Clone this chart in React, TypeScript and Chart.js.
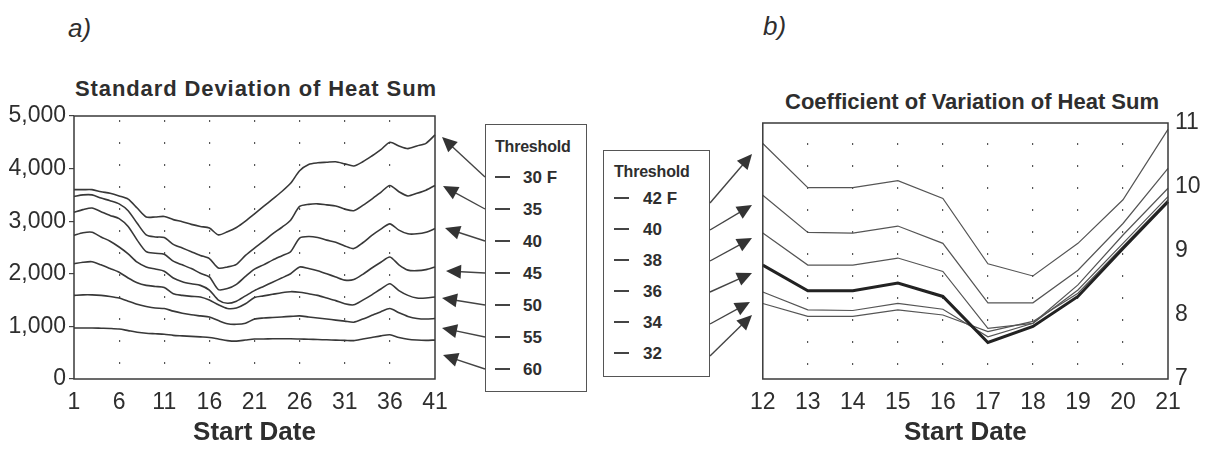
import React, { useEffect, useRef } from "react";
import { Chart, registerables } from "chart.js";

Chart.register(...registerables);

// ---------------- data ----------------
const START_A = ["1","2","3","4","5","6","7","8","9","10","11","12","13","14","15","16","17","18","19","20","21","22","23","24","25","26","27","28","29","30","31","32","33","34","35","36","37","38","39","40","41"];
const START_B = ["12","13","14","15","16","17","18","19","20","21"];

const LEGEND_A = ["30 F", "35", "40", "45", "50", "55", "60"];
const LEGEND_B = ["42 F", "40", "38", "36", "34", "32"];

const SD_30F = [3600,3600,3600,3560,3530,3480,3420,3250,3080,3080,3090,3030,2990,2940,2900,2870,2740,2800,2880,3000,3140,3280,3420,3560,3720,3960,4080,4110,4120,4130,4090,4050,4130,4240,4360,4500,4430,4380,4430,4480,4640];
const SD_35F = [3470,3500,3500,3440,3390,3330,3200,2960,2740,2700,2690,2560,2490,2420,2350,2290,2110,2130,2180,2350,2490,2620,2760,2880,3020,3280,3320,3330,3310,3290,3230,3200,3300,3420,3550,3680,3560,3480,3530,3590,3680];
const SD_40F = [3170,3220,3250,3180,3110,3050,2900,2640,2420,2390,2370,2240,2170,2100,2010,1940,1700,1720,1800,1950,2090,2170,2260,2340,2420,2680,2710,2690,2640,2600,2530,2480,2590,2730,2850,2950,2830,2760,2760,2790,2860];
const SD_45F = [2730,2780,2790,2700,2620,2510,2380,2220,2130,2090,2050,1920,1850,1810,1780,1690,1500,1440,1480,1580,1680,1760,1840,1920,2000,2130,2100,2060,2000,1940,1880,1890,1990,2110,2220,2320,2170,2070,2060,2080,2130];
const SD_50F = [2190,2220,2230,2170,2100,2030,1920,1830,1780,1760,1740,1620,1590,1570,1560,1500,1410,1340,1350,1430,1550,1580,1610,1640,1660,1650,1620,1590,1540,1490,1430,1410,1500,1600,1710,1810,1680,1590,1540,1540,1560];
const SD_55F = [1590,1600,1600,1590,1570,1540,1480,1420,1380,1350,1340,1290,1250,1220,1200,1180,1110,1050,1040,1060,1140,1160,1170,1180,1190,1200,1180,1160,1140,1120,1100,1080,1140,1210,1280,1340,1260,1190,1150,1140,1150];
const SD_60F = [970,970,970,965,960,950,920,890,870,860,850,830,820,810,800,790,760,730,720,740,760,760,765,765,765,760,755,750,745,740,735,730,760,790,820,840,790,755,740,735,740];

const CV_42F = [10.68, 9.99, 9.99, 10.1, 9.82, 8.8, 8.61, 9.12, 9.8, 10.9];
const CV_40F = [9.87, 9.29, 9.28, 9.39, 9.12, 8.19, 8.19, 8.7, 9.43, 10.29];
const CV_38F = [9.28, 8.78, 8.78, 8.89, 8.68, 7.79, 7.87, 8.47, 9.25, 9.98];
const CV_36F = [8.78, 8.38, 8.38, 8.5, 8.29, 7.57, 7.82, 8.29, 9.04, 9.77];
const CV_34F = [8.36, 8.08, 8.07, 8.18, 8.09, 7.66, 7.87, 8.39, 9.12, 9.85];
const CV_32F = [8.18, 7.98, 7.98, 8.08, 8.0, 7.74, 7.9, 8.34, 9.07, 9.8];

const SERIES_A = [SD_30F, SD_35F, SD_40F, SD_45F, SD_50F, SD_55F, SD_60F];
const SERIES_B = [CV_42F, CV_40F, CV_38F, CV_36F, CV_34F, CV_32F];

// ---------------- styles ----------------
const FONT = '"Liberation Sans", Arial, Helvetica, sans-serif';
const INK = "#2e2e2e";

const framePlugin = {
  id: "frame",
  afterDatasetsDraw(chart: any) {
    const { ctx, chartArea: a } = chart;
    ctx.save();
    ctx.strokeStyle = "#3a3a3a";
    ctx.lineWidth = 1.5;
    ctx.strokeRect(a.left, a.top, a.right - a.left, a.bottom - a.top);
    ctx.restore();
  },
};

function xScale(labels: string[], every: number, dashOffset: number) {
  const last = labels.length - 1;
  return {
    type: "category",
    offset: false,
    grid: {
      color: (c: any) => (c.index % every === 0 && c.index > 0 && c.index < last ? "#555" : "transparent"),
      lineWidth: 1.2,
      drawTicks: false,
    },
    border: { display: false, dash: [2, 20], dashOffset },
    ticks: {
      autoSkip: false,
      maxRotation: 0,
      minRotation: 0,
      padding: 10,
      color: INK,
      font: { family: FONT, size: 23 },
      callback: function (this: any, value: any, index: number) {
        return index % every === 0 ? this.getLabelForValue(value) : "";
      },
    },
    title: {
      display: true,
      text: "Start Date",
      color: INK,
      font: { family: FONT, size: 26, weight: "bold" },
      padding: { top: 0, bottom: 12 },
    },
    afterFit: (s: any) => {
      s.height = 81;
    },
  };
}

function makeConfigA(): any {
  return {
    type: "line",
    data: {
      labels: START_A,
      datasets: SERIES_A.map((d, i) => ({
        label: LEGEND_A[i],
        data: d,
        borderColor: "#383838",
        borderWidth: 1.6,
        pointRadius: 0,
        tension: 0.25,
        fill: false,
      })),
    },
    options: {
      responsive: true,
      maintainAspectRatio: false,
      animation: false,
      layout: { padding: { top: 56, right: 35, left: 0, bottom: 0 } },
      plugins: { legend: { display: false }, tooltip: { enabled: false } },
      scales: {
        x: xScale(START_A, 5, 18),
        y: {
          min: 0,
          max: 5000,
          ticks: {
            stepSize: 1000,
            padding: 3,
            color: INK,
            font: { family: FONT, size: 23 },
            callback: (v: any) => Number(v).toLocaleString("en-US"),
          },
          grid: { drawOnChartArea: false, drawTicks: true, tickLength: 5, color: "#444", lineWidth: 1.2 },
          border: { display: false },
          afterFit: (s: any) => {
            s.width = 74;
          },
        },
      },
    },
    plugins: [framePlugin],
  };
}

function makeConfigB(): any {
  return {
    type: "line",
    data: {
      labels: START_B,
      datasets: SERIES_B.map((d, i) => ({
        label: LEGEND_B[i],
        data: d,
        borderColor: i === 3 ? "#222" : "#555",
        borderWidth: i === 3 ? 3 : 1.2,
        pointRadius: 0,
        tension: 0,
        fill: false,
      })),
    },
    options: {
      responsive: true,
      maintainAspectRatio: false,
      animation: false,
      layout: { padding: { top: 63, right: 0, left: 21, bottom: 0 } },
      plugins: { legend: { display: false }, tooltip: { enabled: false } },
      scales: {
        x: xScale(START_B, 1, 2),
        y: {
          position: "right",
          min: 7,
          max: 11,
          ticks: { stepSize: 1, padding: 7, color: INK, font: { family: FONT, size: 23 } },
          grid: { drawOnChartArea: false, drawTicks: false },
          border: { display: false },
          afterFit: (s: any) => {
            s.width = 40;
          },
        },
      },
    },
    plugins: [framePlugin],
  };
}

function ChartBox({ make, style }: { make: () => any; style: React.CSSProperties }) {
  const ref = useRef<HTMLCanvasElement>(null);
  useEffect(() => {
    const chart = new Chart(ref.current as HTMLCanvasElement, make());
    return () => chart.destroy();
  }, []);
  return (
    <div style={{ position: "absolute", ...style }}>
      <canvas ref={ref} />
    </div>
  );
}

function Legend({ labels, box, titleTop, firstY, step, dashX, textX }: any) {
  return (
    <>
      <div
        style={{
          position: "absolute",
          left: box.x,
          top: box.y,
          width: box.w,
          height: box.h,
          border: "1.5px solid #555",
          boxSizing: "border-box",
        }}
      />
      <div
        style={{
          position: "absolute",
          left: dashX,
          top: titleTop,
          font: `bold 16px ${FONT}`,
          lineHeight: "16px",
          color: INK,
          letterSpacing: "-0.2px",
        }}
      >
        Threshold
      </div>
      {labels.map((t: string, i: number) => (
        <React.Fragment key={t + i}>
          <div
            style={{
              position: "absolute",
              left: dashX,
              top: firstY + i * step - 0.75,
              width: 15,
              height: 1.5,
              background: "#444",
            }}
          />
          <div
            style={{
              position: "absolute",
              left: textX,
              top: firstY + i * step - 8.5,
              font: `bold 17px ${FONT}`,
              lineHeight: "17px",
              color: INK,
            }}
          >
            {t}
          </div>
        </React.Fragment>
      ))}
    </>
  );
}

const ARROWS_A = [
  [485, 177, 442, 137],
  [485, 209, 443, 186],
  [485, 241, 445, 228],
  [485, 273, 446, 271],
  [485, 305, 442, 298],
  [485, 337, 442, 328],
  [485, 369, 443, 355],
];
const ARROWS_B = [
  [710, 203, 752, 154],
  [710, 230, 752, 205],
  [710, 261, 752, 238],
  [710, 292, 752, 273],
  [710, 324, 750, 302],
  [710, 356, 752, 315],
];

function Arrows() {
  const all = [...ARROWS_A, ...ARROWS_B];
  return (
    <svg width={1208} height={460} style={{ position: "absolute", left: 0, top: 0, pointerEvents: "none" }}>
      {all.map(([x1, y1, x2, y2], i) => {
        const dx = x2 - x1;
        const dy = y2 - y1;
        const len = Math.hypot(dx, dy);
        const ux = dx / len;
        const uy = dy / len;
        const L = 15;
        const W = 7;
        const bx = x2 - ux * L;
        const by = y2 - uy * L;
        const p = `${x2},${y2} ${bx - uy * W},${by + ux * W} ${bx + uy * W},${by - ux * W}`;
        return (
          <g key={i}>
            <line x1={x1} y1={y1} x2={x2 - ux * L * 0.7} y2={y2 - uy * L * 0.7} stroke="#444" strokeWidth={1.4} />
            <polygon points={p} fill="#333" />
          </g>
        );
      })}
    </svg>
  );
}

export default function App() {
  return (
    <div
      style={{
        position: "fixed",
        left: 0,
        top: 0,
        width: 1208,
        height: 460,
        background: "#ffffff",
        overflow: "hidden",
        fontFamily: FONT,
      }}
    >
      <div style={{ position: "absolute", left: 68, top: 15, font: `italic 26px ${FONT}`, lineHeight: "26px", color: INK }}>a)</div>
      <div style={{ position: "absolute", left: 763, top: 13, font: `italic 26px ${FONT}`, lineHeight: "26px", color: INK }}>b)</div>
      <div
        style={{
          position: "absolute",
          left: 75,
          top: 78,
          font: `bold 22px ${FONT}`,
          lineHeight: "22px",
          letterSpacing: "0.9px",
          color: INK,
          whiteSpace: "nowrap",
        }}
      >
        Standard Deviation of Heat Sum
      </div>
      <div
        style={{
          position: "absolute",
          left: 785,
          top: 91,
          font: `bold 22px ${FONT}`,
          lineHeight: "22px",
          color: INK,
          whiteSpace: "nowrap",
        }}
      >
        Coefficient of Variation of Heat Sum
      </div>
      <ChartBox make={makeConfigA} style={{ left: 0, top: 60, width: 470, height: 400 }} />
      <ChartBox make={makeConfigB} style={{ left: 740, top: 60, width: 468, height: 400 }} />
      <Legend
        labels={LEGEND_A}
        box={{ x: 485, y: 124, w: 102, h: 268 }}
        titleTop={139}
        firstY={177}
        step={32}
        dashX={495}
        textX={523}
      />
      <Legend
        labels={LEGEND_B}
        box={{ x: 603, y: 150, w: 107, h: 227 }}
        titleTop={164}
        firstY={198}
        step={31}
        dashX={614}
        textX={643}
      />
      <Arrows />
    </div>
  );
}
